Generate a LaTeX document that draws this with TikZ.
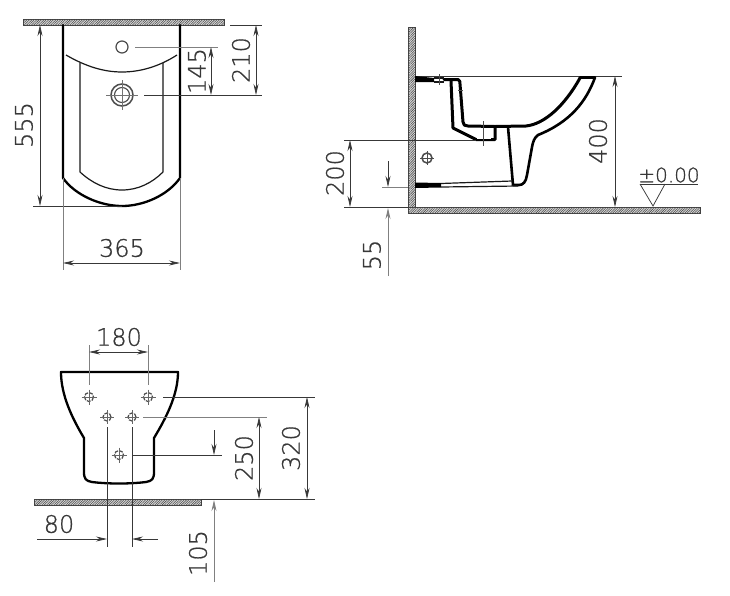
\documentclass[tikz,border=0pt]{standalone}
\usepackage{fontspec}
\setmainfont{DejaVu Sans ExtraLight}[FakeBold=0.7]
\usetikzlibrary{arrows.meta,patterns.meta}
\definecolor{dimc}{gray}{0.22}
\tikzset{
 wallfill/.style={draw=black!75,line width=.9pt,fill=black!15,postaction={pattern={Lines[distance=1.7pt,angle=45,line width=.55pt]},pattern color=black!70}},
 outline/.style={draw=black,line width=2.3pt,line join=round,line cap=round},
 thinout/.style={draw=black!90,line width=1.2pt,line join=round},
 dimline/.style={draw=dimc,line width=.75pt},
 lightline/.style={draw=black!50,line width=.85pt},
 dimboth/.style={dimline,{Stealth[length=11pt,width=5pt]}-{Stealth[length=11pt,width=5pt]}},
 dimto/.style={dimline,-{Stealth[length=11pt,width=5pt]}},
 dimtext/.style={text=dimc,font=\fontsize{24}{24}\selectfont,inner sep=0pt},
 holeline/.style={draw=black!70,line width=.7pt},
}
\newcommand{\hole}[3]{%
 \draw[holeline,line width=1.2pt,dash pattern=on 4pt off 1.2pt] (#1,#2) circle (#3);
 \draw[holeline,black!60,line width=.8pt] (#1-#3-3,#2) -- (#1+#3+3,#2) (#1,#2-#3-3) -- (#1,#2+#3+3);
}
\begin{document}
\begin{tikzpicture}[x=1pt,y=-1pt]
\useasboundingbox (0,0) rectangle (730,595);
% ===== top view =====
\draw[wallfill] (23,19) rectangle (224,25);
\draw[outline] (63,25) -- (63,178) .. controls (75,195) and (100,206) .. (122,206) .. controls (144,206) and (168,195) .. (180,178) -- (180,25);
\draw[thinout] (66,55) .. controls (85,66) and (103,72) .. (122,72) .. controls (141,72) and (160,66) .. (177,55);
\draw[thinout] (80,63) -- (80,172) .. controls (92,183) and (106,190) .. (122,190) .. controls (138,190) and (152,183) .. (163,172) -- (163,63);
\draw[holeline,line width=1.2pt] (122,47) circle (6);
\draw[holeline,line width=1.5pt] (122,95) circle (11);
\draw[holeline,line width=1.1pt] (122,95) circle (7.5);
\draw[holeline,black!55] (106,95) -- (138,95) (122,80) -- (122,110);
\draw[lightline] (135,47) -- (218,47);
\draw[dimline] (144,95) -- (262,95);
\draw[dimline] (230,25) -- (262,25);
\draw[dimboth] (211,47) -- (211,95);
\draw[dimboth] (256,25) -- (256,95);
\draw[dimline] (33,206) -- (122,206);
\draw[dimboth] (40,25) -- (40,206);
\draw[lightline] (63,178) -- (63,270);
\draw[lightline] (180,178) -- (180,270);
\draw[dimboth] (63,263) -- (180,263);
\node[dimtext,rotate=90] (t555) at (24,125) {555};
\node[dimtext,rotate=90] (t145) at (197,71) {145};
\node[dimtext,rotate=90] (t210) at (241,60) {210};
\node[dimtext] (t365) at (122,248) {365};
% ===== side view =====
\draw[wallfill] (408,27) rectangle (415,207);
\draw[wallfill] (408,207) rectangle (700,213);
\draw[dimline] (415,76) -- (622,76);
\fill[black] (415,76) -- (434,78) -- (434,82) -- (415,82) -- cycle;
\draw[outline,line width=3pt] (444,79.5) -- (458,79.5) .. controls (460,80) and (460,82) .. (460,84) -- (463,122) .. controls (463,125) and (465,126) .. (468,126) -- (495,126.5) -- (526,126) .. controls (545,124) and (565,105) .. (580,78);
\draw[outline,line width=3pt] (451,81) -- (453,128) -- (476,139.5) -- (495,139.5) -- (495,127);
\fill[white] (477,129) rectangle (491,138.5);
\draw[thinout] (434,78) -- (444,78) (434,82) -- (444,82);
\draw[outline,line width=2.6pt] (580,77.5) -- (595,77.5) .. controls (586,102) and (570,122) .. (538,135) .. controls (534,138) and (533,142) .. (532,147) -- (527,175) .. controls (526,182) and (523,185) .. (519,185) -- (513,185) -- (508,127);
\fill[black] (415,182.5) -- (441,183) -- (441,187.5) -- (415,188) -- cycle;
\draw[thinout] (441,183.5) -- (512,181);
\draw[thinout] (441,187) -- (518,186);
\draw[holeline] (483,121) -- (483,146);
\draw[holeline] (439,74) -- (439,85);
\draw[holeline] (458,90) -- (463,90);
\draw[holeline,line width=1.5pt] (427,158) circle (5);
\draw[holeline,line width=.9pt] (420,158) -- (434,158) (427,151) -- (427,165);
\draw[dimline] (344,140) -- (476,140);
\draw[dimline] (344,207) -- (408,207);
\draw[dimboth] (350,140) -- (350,207);
\draw[dimto] (388,161) -- (388,187);
\draw[lightline] (382,187) -- (408,187);
\draw[lightline,-{Stealth[length=11pt,width=5pt]}] (388,276) -- (388,208);
\draw[dimboth] (615,76) -- (615,207);
\draw[dimline] (640,184) -- (698,184);
\draw[dimline] (640,184) -- (653,206) -- (665,184);
\node[dimtext,rotate=90] (t200) at (335,173) {200};
\node[dimtext,rotate=90] (t55) at (372,255) {55};
\node[dimtext,rotate=90] (t400) at (598,141) {400};
\node[dimtext,font=\fontsize{20}{20}\selectfont] (t000) at (669,175) {±0.00};
% ===== rear view =====
\draw[outline] (61,372) -- (178,372) .. controls (178,395) and (166,418) .. (154,438) -- (154,472) .. controls (154,479) and (152,481) .. (146,482) .. controls (130,484) and (108,484) .. (92,482) .. controls (86,481) and (84,479) .. (84,472) -- (84,438) .. controls (72,418) and (61,395) .. (61,372) -- cycle;
\hole{89}{397}{4.5}
\hole{148}{397}{4.5}
\hole{107}{417}{4}
\hole{132}{417}{4}
\hole{119}{455}{4.5}
\draw[wallfill] (34,499) rectangle (201,505);
\draw[lightline] (89,345) -- (89,385);
\draw[lightline] (148,345) -- (148,385);
\draw[dimboth] (89,352) -- (148,352);
\draw[dimline] (163,397) -- (315,397);
\draw[lightline] (143,417) -- (267,417);
\draw[dimline] (133,455) -- (222,455);
\draw[dimline] (201,499) -- (315,499);
\draw[dimboth] (307,397) -- (307,499);
\draw[dimboth] (259,417) -- (259,499);
\draw[dimto] (214,430) -- (214,455);
\draw[lightline,-{Stealth[length=11pt,width=5pt]}] (214,582) -- (214,500);
\draw[dimline] (107,427) -- (107,547);
\draw[dimline] (132,427) -- (132,547);
\draw[dimto] (37,539) -- (107,539);
\draw[dimto] (158,539) -- (132,539);
\node[dimtext] (t180) at (119,337) {180};
\node[dimtext,rotate=90] (t320) at (291,448) {320};
\node[dimtext,rotate=90] (t250) at (244,458) {250};
\node[dimtext,rotate=90] (t105) at (198,553) {105};
\node[dimtext] (t80) at (59,524) {80};
\end{tikzpicture}
\end{document}
